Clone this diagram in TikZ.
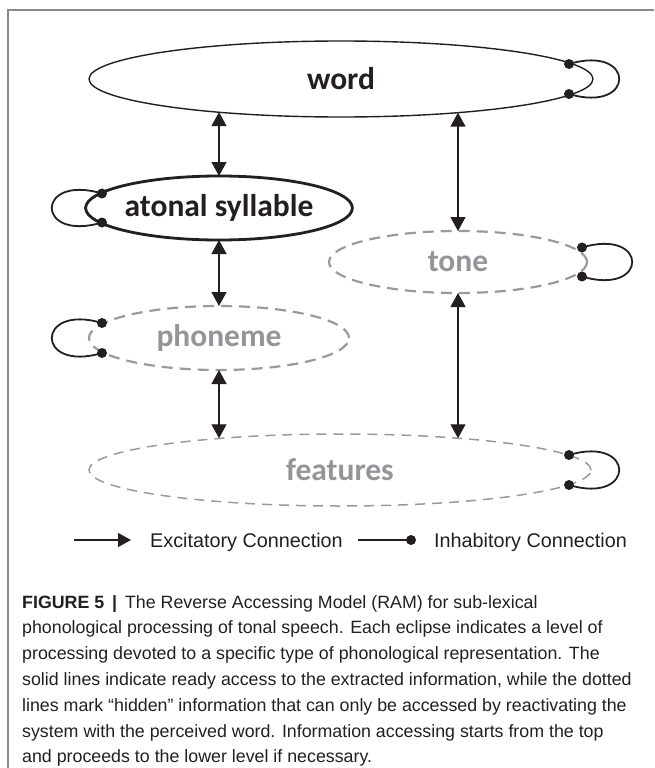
\documentclass[tikz,border=0pt]{standalone}
\usepackage{fontspec}
\setmainfont{Liberation Sans}
\newfontfamily\lblfont{Carlito}
\usetikzlibrary{shapes.geometric, arrows.meta, calc}
\definecolor{ink}{HTML}{231F20}
\definecolor{hid}{HTML}{9A9A9C}
\definecolor{hidtxt}{HTML}{939598}
\definecolor{framecol}{HTML}{8A8A8A}
\tikzset{
  lvl/.style={ellipse, inner sep=0pt, outer sep=0pt,
    font=\lblfont\bfseries\fontsize{31.5}{36}\selectfont},
  shown/.style={lvl, draw=ink, text=ink, line width=1.4pt},
  shownthick/.style={lvl, draw=ink, text=ink, line width=2.8pt},
  hidden/.style={lvl, draw=hid, text=hidtxt, line width=2.2pt, dash pattern=on 11pt off 7pt},
  hiddenthin/.style={lvl, draw=hid, text=hidtxt, line width=1.5pt, dash pattern=on 10pt off 7pt},
  dbl/.style={draw=ink, line width=1.3pt, {Triangle[length=14pt,width=15pt]}-{Triangle[length=14pt,width=15pt]}},
  exc/.style={draw=ink, line width=1.3pt, -{Triangle[length=13pt,width=14pt]}},
  loopline/.style={draw=ink, line width=1.8pt},
  dotfill/.style={fill=ink},
  legtxt/.style={text=ink, font=\fontsize{19.8}{22}\selectfont, inner sep=0pt, anchor=base west},
  captxt/.style={text=ink, font=\fontsize{17.8}{22}\selectfont, inner sep=0pt, anchor=base west},
  framest/.style={draw=framecol, line width=1.2pt}
}
\begin{document}
\begin{tikzpicture}[x=1pt, y=-1pt]
\useasboundingbox (0,0) rectangle (654,768);
% frame
\coordinate (fb) at (8,768);
\coordinate (fc) at (8,10);
\coordinate (fr) at (654,10);
\draw[framest] (fb) -- (fc) -- (fr);

% levels
\node[shown, minimum width=504pt, minimum height=76pt] (word) at (341,79) {word};
\node[shownthick, minimum width=260pt, minimum height=64pt] (atonal) at (219,208) {atonal syllable};
\node[hidden, minimum width=258pt, minimum height=62pt] (tone) at (458,262) {tone};
\node[hidden, minimum width=260pt, minimum height=64pt] (phoneme) at (219,338) {phoneme};
\node[hiddenthin, minimum width=502pt, minimum height=72pt] (features) at (340,470) {features};

% excitatory (two-way) connections
\draw[dbl] (word.195.2 -| atonal.north) -- (atonal.north);
\draw[dbl] (word.-16.05 -| tone.north) -- (tone.north);
\draw[dbl] (atonal.south) -- (phoneme.north);
\draw[dbl] (phoneme.south) -- (features.165.39 -| phoneme.south);
\draw[dbl] (tone.south) -- (features.15.07 -| tone.south);

% inhibitory self loops
\coordinate (w1) at ($(word)+(228,-15)$);
\coordinate (w2) at ($(word)+(228,15)$);
\draw[loopline] (w1) .. controls +(67,-20) and +(67,20) .. (w2);
\fill[dotfill] (w1) circle (5) (w2) circle (5);

\coordinate (a1) at ($(atonal)+(-117,-14.5)$);
\coordinate (a2) at ($(atonal)+(-117,14.5)$);
\draw[loopline] (a1) .. controls +(-67,-20) and +(-67,20) .. (a2);
\fill[dotfill] (a1) circle (5) (a2) circle (5);

\coordinate (t1) at ($(tone)+(124,-14.5)$);
\coordinate (t2) at ($(tone)+(124,14.5)$);
\draw[loopline] (t1) .. controls +(67,-20) and +(67,20) .. (t2);
\fill[dotfill] (t1) circle (5) (t2) circle (5);

\coordinate (p1) at ($(phoneme)+(-117,-15)$);
\coordinate (p2) at ($(phoneme)+(-117,15)$);
\draw[loopline] (p1) .. controls +(-67,-20) and +(-67,20) .. (p2);
\fill[dotfill] (p1) circle (5) (p2) circle (5);

\coordinate (f1) at ($(features)+(229,-15)$);
\coordinate (f2) at ($(features)+(229,15)$);
\draw[loopline] (f1) .. controls +(67,-20) and +(67,20) .. (f2);
\fill[dotfill] (f1) circle (5) (f2) circle (5);

% legend
\coordinate (ea) at (74,540);
\coordinate (eb) at (131,540);
\draw[exc] (ea) -- (eb);
\node[legtxt] (extxt) at (150,547) {Excitatory Connection};
\coordinate (ia) at (358,540);
\coordinate (ib) at (411,540);
\draw[loopline, line width=1.3pt] (ia) -- (ib);
\fill[dotfill] (ib) circle (5);
\node[legtxt] (intxt) at (434,547) {Inhabitory Connection};

% caption
\node[captxt] (cap1) at (22,608.0) {\textbf{FIGURE 5 \,|\,} The Reverse Accessing Model (RAM) for sub-lexical};
\node[captxt] (cap2) at (22,633.8) {phonological processing of tonal speech. Each eclipse indicates a level of};
\node[captxt] (cap3) at (22,659.6) {processing devoted to a specific type of phonological representation. The};
\node[captxt] (cap4) at (22,685.4) {solid lines indicate ready access to the extracted information, while the dotted};
\node[captxt] (cap5) at (22,711.2) {lines mark “hidden” information that can only be accessed by reactivating the};
\node[captxt] (cap6) at (22,737.0) {system with the perceived word. Information accessing starts from the top};
\node[captxt] (cap7) at (22,762.8) {and proceeds to the lower level if necessary.};
\end{tikzpicture}
\end{document}
